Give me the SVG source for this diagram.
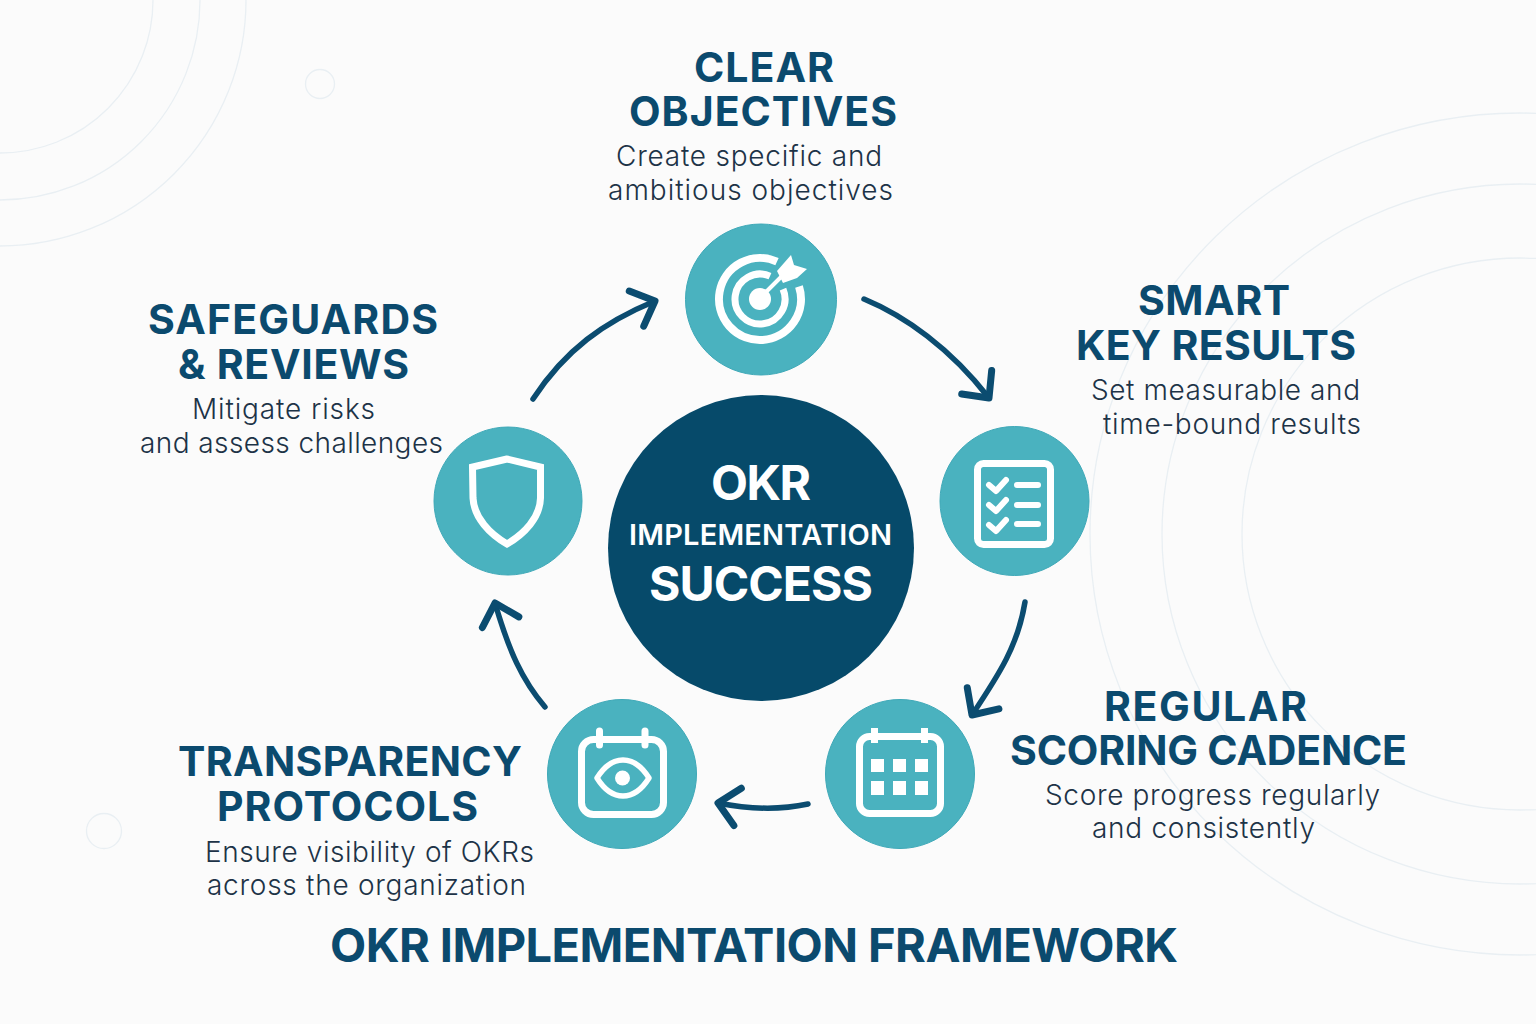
<svg xmlns="http://www.w3.org/2000/svg" width="1536" height="1024" viewBox="0 0 1536 1024">
<style>
.h{font:700 41px Inter,"Liberation Sans",sans-serif;fill:#0b4a6e}
.b{font:300 28px Inter,"Liberation Sans",sans-serif;fill:#1d3347}
.c{font:700 48px Inter,"Liberation Sans",sans-serif;fill:#fff}
.bg{fill:none;stroke:#e9eff3;stroke-width:1.3}
.node{fill:#4ab2bf;stroke:#3fa9b8;stroke-width:1}
.i{fill:none;stroke:#fff;stroke-width:7;stroke-linecap:round;stroke-linejoin:round}
.f{fill:#fff}
.a{fill:none;stroke:#0b4c70;stroke-width:5.5;stroke-linecap:round;stroke-linejoin:round}
</style>
<defs>
<marker id="head" markerUnits="userSpaceOnUse" viewBox="-26 -26 32 52" refX="0" refY="0" markerWidth="32" markerHeight="52" orient="auto">
<path d="M-20,-19 L0,0 L-20,19" fill="none" stroke="#0b4c70" stroke-width="7" stroke-linecap="round" stroke-linejoin="round"/>
</marker>
</defs>
<rect width="1536" height="1024" fill="#fbfbfb"/>
<g id="background">
<circle class="bg" cx="0" cy="0" r="153"/>
<circle class="bg" cx="0" cy="0" r="200"/>
<circle class="bg" cx="0" cy="0" r="246"/>
<circle class="bg" cx="320" cy="84" r="14.5"/>
<circle class="bg" cx="104" cy="831" r="17.5"/>
<ellipse class="bg" cx="1520" cy="534" rx="430" ry="421"/>
<ellipse class="bg" cx="1520" cy="534" rx="358" ry="350"/>
<ellipse class="bg" cx="1520" cy="534" rx="278" ry="276"/>
</g>
<g id="connectors">
<path class="a" marker-end="url(#head)" d="M864,299 C905,316 950,348 989,398"/>
<path class="a" marker-end="url(#head)" d="M1025,602 C1018,645 1000,673 972,715"/>
<path class="a" marker-end="url(#head)" d="M808,804 C780,810 748,809 718,803"/>
<path class="a" marker-end="url(#head)" d="M545,707 C522,680 509,651 495,603"/>
<path class="a" marker-end="url(#head)" d="M533,399 C565,350 604,322 655,301"/>
</g>
<g id="center">
<circle cx="761" cy="548" r="153" fill="#064a6a"/>
<text class="c" x="711" y="500" textLength="100">OKR</text>
<text class="c" x="629" y="545" textLength="263" style="font-size:29px;font-weight:600">IMPLEMENTATION</text>
<text class="c" x="649" y="601" textLength="224">SUCCESS</text>
</g>
<g id="node-clear-objectives">
<circle class="node" cx="761" cy="299.500" r="75.500"/>
<path class="i" style="stroke-linecap:butt;stroke-width:8" d="M777,261.700 A41,41 0 1 0 799,286.400"/>
<path class="i" style="stroke-linecap:butt" d="M770,276.100 A25,25 0 1 0 783,289.200"/>
<circle class="f" cx="760" cy="299" r="11"/>
<path class="i" style="stroke-width:4" d="M765,293 L783,275"/>
<polygon class="f" points="777,271 791,255 794,265 807,269 797,278 783,283"/>
<text class="h" x="694" y="82" textLength="140">CLEAR</text>
<text class="h" x="629" y="126" textLength="268">OBJECTIVES</text>
<text class="b" x="616" y="166" textLength="266">Create specific and</text>
<text class="b" x="608" y="200" textLength="285">ambitious objectives</text>
</g>
<g id="node-smart-key-results">
<circle class="node" cx="1014.500" cy="501" r="74.500"/>
<rect class="i" x="977.500" y="463.500" width="73" height="81" rx="6"/>
<path class="i" style="stroke-width:6" d="M989,485 L996,491 L1006,480 M989,505 L996,511 L1006,500 M989,525 L996,531 L1006,520 M1017,485 H1038 M1017,505 H1038 M1017,524 H1038"/>
<text class="h" x="1138" y="315" textLength="152">SMART</text>
<text class="h" x="1076" y="360" textLength="280">KEY RESULTS</text>
<text class="b" x="1091" y="400" textLength="269">Set measurable and</text>
<text class="b" x="1103" y="434" textLength="258">time-bound results</text>
</g>
<g id="node-regular-scoring-cadence">
<circle class="node" cx="900" cy="774" r="74.500"/>
<rect class="i" x="859.500" y="736.500" width="81" height="77" rx="10"/>
<path class="f" d="M871,728 h7 v15 h-7 z M921,728 h7 v15 h-7 z"/>
<path class="f" d="M871,759 h13 v13 h-13 z M893,759 h13 v13 h-13 z M915,759 h13 v13 h-13 z M871,781 h13 v14 h-13 z M893,781 h13 v14 h-13 z M915,781 h13 v14 h-13 z"/>
<text class="h" x="1104" y="721" textLength="203">REGULAR</text>
<text class="h" x="1010" y="765" textLength="397">SCORING CADENCE</text>
<text class="b" x="1045" y="805" textLength="335">Score progress regularly</text>
<text class="b" x="1092" y="838" textLength="223">and consistently</text>
</g>
<g id="node-transparency-protocols">
<circle class="node" cx="622" cy="774" r="74.500"/>
<rect class="i" x="581.500" y="739.500" width="82" height="75" rx="12"/>
<path class="i" d="M599.500,731 V745 M645,731 V745"/>
<path class="i" style="stroke-width:5.500" d="M597,778 C612,754 634,754 649,778 C634,802 612,802 597,778 Z"/>
<circle class="f" cx="622.500" cy="778" r="7.500"/>
<text class="h" x="178" y="776" textLength="344">TRANSPARENCY</text>
<text class="h" x="217" y="821" textLength="261">PROTOCOLS</text>
<text class="b" x="205" y="862" textLength="329">Ensure visibility of OKRs</text>
<text class="b" x="207" y="895" textLength="319">across the organization</text>
</g>
<g id="node-safeguards-reviews">
<circle class="node" cx="508" cy="501" r="74"/>
<path class="i" style="stroke-linejoin:miter" d="M507,459 L472.500,467 L473,498 C474,518 490,534 507,544 C524,534 540,518 540.500,498 L540.500,467 Z"/>
<text class="h" x="148" y="334" textLength="290">SAFEGUARDS</text>
<text class="h" x="178" y="379" textLength="231">&amp; REVIEWS</text>
<text class="b" x="192" y="419" textLength="183">Mitigate risks</text>
<text class="b" x="140" y="453" textLength="303">and assess challenges</text>
</g>
<text id="title" class="h" x="330" y="962" textLength="848" style="font-size:47px">OKR IMPLEMENTATION FRAMEWORK</text>
</svg>
